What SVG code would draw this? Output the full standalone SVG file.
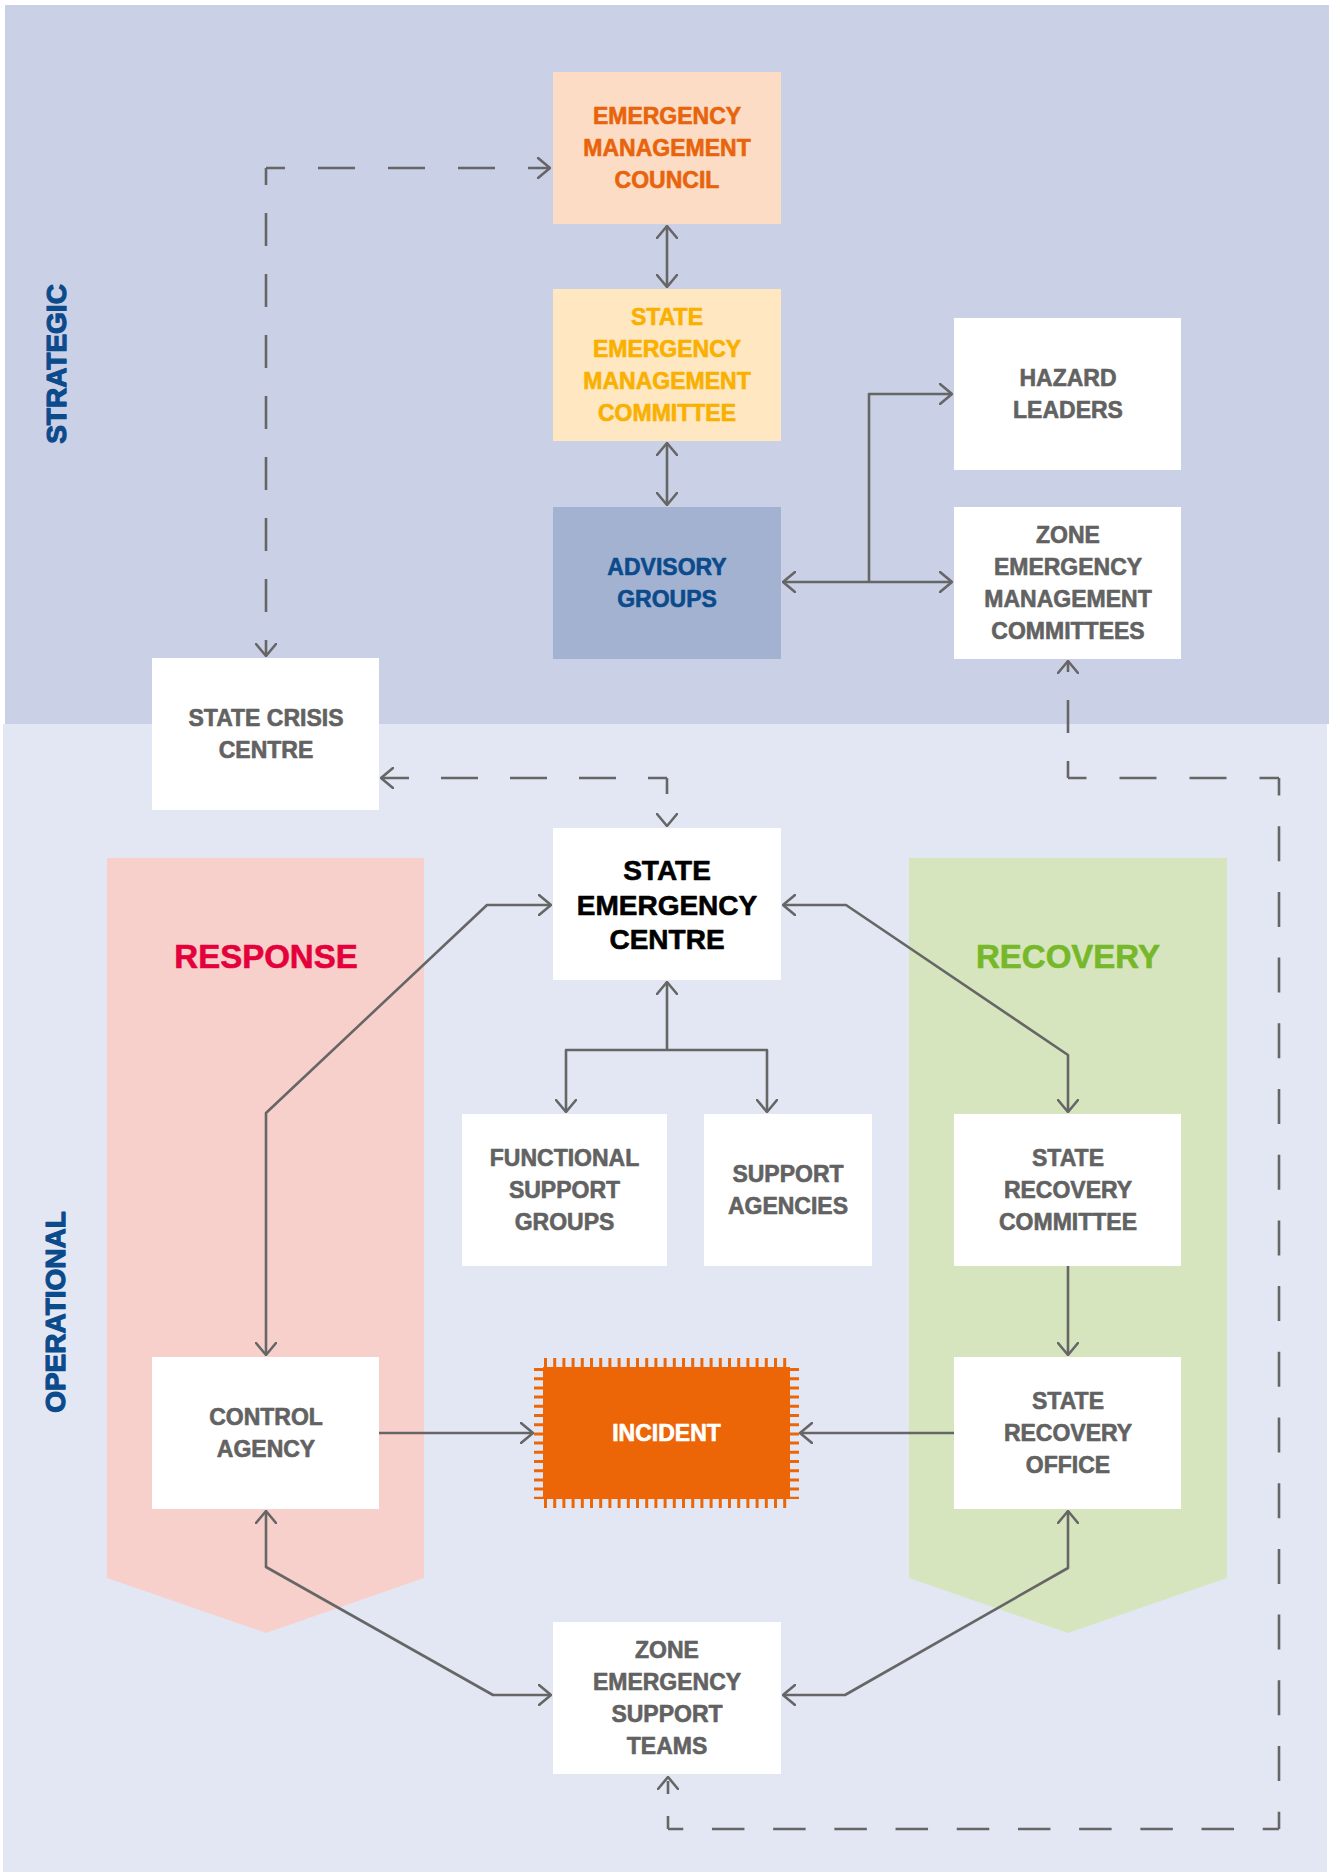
<svg xmlns="http://www.w3.org/2000/svg" width="1333" height="1872" viewBox="0 0 1333 1872">
<style>
text{font-family:"Liberation Sans",Arial,sans-serif;font-weight:700;text-anchor:middle;stroke-width:0.6;stroke-linejoin:round}
.t{font-size:23px;fill:#626262;stroke:#626262}
.box{fill:#ffffff}
.c{fill:none;stroke:#666666;stroke-width:2.6;stroke-linejoin:round}
.d{fill:none;stroke:#666666;stroke-width:2.6}
.lab{font-size:28px;fill:#0b4a8b;stroke:#0b4a8b;stroke-width:1.2}
</style>
<defs>
<marker id="ah" viewBox="0 0 14 22" markerWidth="14" markerHeight="22" refX="13" refY="11" orient="auto-start-reverse" markerUnits="userSpaceOnUse">
<path d="M1,1 L13,11 L1,21" fill="none" stroke="#666666" stroke-width="2.6" stroke-linecap="round" stroke-linejoin="round"/>
</marker>
</defs>
<rect width="1333" height="1872" fill="#ffffff"/>
<g id="backgrounds">
<rect id="strategic-bg" x="5" y="5" width="1324" height="719" fill="#cad0e6"/>
<rect id="operational-bg" x="3" y="724" width="1324" height="1148" fill="#e3e7f3"/>
<polygon id="response-band" points="107,858 424,858 424,1578 266,1633 107,1578" fill="#f8d0cb"/>
<polygon id="recovery-band" points="909,858 1227,858 1227,1578 1068,1633 909,1578" fill="#d6e5bd"/>
<text class="lab" transform="translate(66,364) rotate(-90)">STRATEGIC</text>
<text class="lab" transform="translate(65,1312) rotate(-90)">OPERATIONAL</text>
<text x="266" y="968" style="font-size:33px;fill:#e4003b;stroke:#e4003b">RESPONSE</text>
<text x="1068" y="968" style="font-size:33px;fill:#76b82a;stroke:#76b82a">RECOVERY</text>
</g>
<g id="connectors">
<path class="c" d="M667,226 V287" marker-start="url(#ah)" marker-end="url(#ah)"/>
<path class="c" d="M667,443 V505" marker-start="url(#ah)" marker-end="url(#ah)"/>
<path class="c" d="M783,582 H952" marker-start="url(#ah)" marker-end="url(#ah)"/>
<path class="c" d="M869,582 V394 H952" marker-end="url(#ah)"/>
<path class="c" d="M551,905 H487 L266,1113 V1355" marker-start="url(#ah)" marker-end="url(#ah)"/>
<path class="c" d="M783,905 H846 L1068,1055 V1112" marker-start="url(#ah)" marker-end="url(#ah)"/>
<path class="c" d="M667,1050 V982" marker-end="url(#ah)"/>
<path class="c" d="M566,1112 V1050 H767 V1112" marker-start="url(#ah)" marker-end="url(#ah)"/>
<path class="c" d="M1068,1266 V1355" marker-end="url(#ah)"/>
<path class="c" d="M379,1433 H533" marker-end="url(#ah)"/>
<path class="c" d="M954,1433 H800" marker-end="url(#ah)"/>
<path class="c" d="M266,1511 V1567 L493,1695 H551" marker-start="url(#ah)" marker-end="url(#ah)"/>
<path class="c" d="M1068,1511 V1568 L845,1695 H783" marker-start="url(#ah)" marker-end="url(#ah)"/>
<path class="d" d="M266,168 V656" stroke-dasharray="33 28" stroke-dashoffset="16" marker-end="url(#ah)"/>
<path class="d" d="M266,168 H550" stroke-dasharray="37 33" stroke-dashoffset="18" marker-end="url(#ah)"/>
<path class="d" d="M667,778 H381" stroke-dasharray="37 32" stroke-dashoffset="18" marker-end="url(#ah)"/>
<path class="d" d="M667,778 V826" stroke-dasharray="16 30" marker-end="url(#ah)"/>
<path class="d" d="M1068,778 V661" stroke-dasharray="33 28" stroke-dashoffset="16" marker-end="url(#ah)"/>
<path class="d" d="M1068,778 H1279" stroke-dasharray="37 33" stroke-dashoffset="18.5"/>
<path class="d" d="M1279,778 V1829" stroke-dasharray="35 30.7" stroke-dashoffset="17.5"/>
<path class="d" d="M1279,1829 H668" stroke-dasharray="32.5 28.7" stroke-dashoffset="16.25"/>
<path class="d" d="M668,1829 V1777" stroke-dasharray="13 22" marker-end="url(#ah)"/>
</g>
<g id="emc"><rect x="553" y="72" width="228" height="152" fill="#fcdcc4"/>
<text class="t" x="667" y="124" style="fill:#e8640c;stroke:#e8640c">EMERGENCY</text><text class="t" x="667" y="156" style="fill:#e8640c;stroke:#e8640c">MANAGEMENT</text><text class="t" x="667" y="188" style="fill:#e8640c;stroke:#e8640c">COUNCIL</text></g>
<g id="semc"><rect x="553" y="289" width="228" height="152" fill="#fee7c1"/>
<text class="t" x="667" y="325" style="fill:#f9b000;stroke:#f9b000">STATE</text><text class="t" x="667" y="357" style="fill:#f9b000;stroke:#f9b000">EMERGENCY</text><text class="t" x="667" y="389" style="fill:#f9b000;stroke:#f9b000">MANAGEMENT</text><text class="t" x="667" y="421" style="fill:#f9b000;stroke:#f9b000">COMMITTEE</text></g>
<g id="advisory"><rect x="553" y="507" width="228" height="152" fill="#a3b2d1"/>
<text class="t" x="667" y="575" style="fill:#0b4a8b;stroke:#0b4a8b">ADVISORY</text><text class="t" x="667" y="607" style="fill:#0b4a8b;stroke:#0b4a8b">GROUPS</text></g>
<g id="hazard"><rect class="box" x="954" y="318" width="227" height="152"/>
<text class="t" x="1068" y="386">HAZARD</text><text class="t" x="1068" y="418">LEADERS</text></g>
<g id="zemc"><rect class="box" x="954" y="507" width="227" height="152"/>
<text class="t" x="1068" y="543">ZONE</text><text class="t" x="1068" y="575">EMERGENCY</text><text class="t" x="1068" y="607">MANAGEMENT</text><text class="t" x="1068" y="639">COMMITTEES</text></g>
<g id="scc"><rect class="box" x="152" y="658" width="227" height="152"/>
<text class="t" x="266" y="726">STATE CRISIS</text><text class="t" x="266" y="758">CENTRE</text></g>
<g id="sec"><rect class="box" x="553" y="828" width="228" height="152"/>
<text x="667" y="880" style="font-size:28px;fill:#000;stroke:#000">STATE</text><text x="667" y="915" style="font-size:28px;fill:#000;stroke:#000">EMERGENCY</text><text x="667" y="949" style="font-size:28px;fill:#000;stroke:#000">CENTRE</text></g>
<g id="fsg"><rect class="box" x="462" y="1114" width="205" height="152"/>
<text class="t" x="564.5" y="1166">FUNCTIONAL</text><text class="t" x="564.5" y="1198">SUPPORT</text><text class="t" x="564.5" y="1230">GROUPS</text></g>
<g id="sa"><rect class="box" x="704" y="1114" width="168" height="152"/>
<text class="t" x="788" y="1182">SUPPORT</text><text class="t" x="788" y="1214">AGENCIES</text></g>
<g id="src"><rect class="box" x="954" y="1114" width="227" height="152"/>
<text class="t" x="1068" y="1166">STATE</text><text class="t" x="1068" y="1198">RECOVERY</text><text class="t" x="1068" y="1230">COMMITTEE</text></g>
<g id="ca"><rect class="box" x="152" y="1357" width="227" height="152"/>
<text class="t" x="266" y="1425">CONTROL</text><text class="t" x="266" y="1457">AGENCY</text></g>
<g id="incident">
<rect x="543" y="1367" width="247" height="132" fill="#ec6608"/>
<g fill="none" stroke="#ec6608" stroke-width="9" stroke-dasharray="3 6.2">
<path d="M544,1362.5 H790"/><path d="M544,1503.5 H790"/><path d="M538.5,1368 V1499"/><path d="M794.5,1368 V1499"/>
</g>
<text class="t" x="666.5" y="1441" style="fill:#ffffff;stroke:#ffffff">INCIDENT</text></g>
<g id="sro"><rect class="box" x="954" y="1357" width="227" height="152"/>
<text class="t" x="1068" y="1409">STATE</text><text class="t" x="1068" y="1441">RECOVERY</text><text class="t" x="1068" y="1473">OFFICE</text></g>
<g id="zest"><rect class="box" x="553" y="1622" width="228" height="152"/>
<text class="t" x="667" y="1658">ZONE</text><text class="t" x="667" y="1690">EMERGENCY</text><text class="t" x="667" y="1722">SUPPORT</text><text class="t" x="667" y="1754">TEAMS</text></g>
</svg>
